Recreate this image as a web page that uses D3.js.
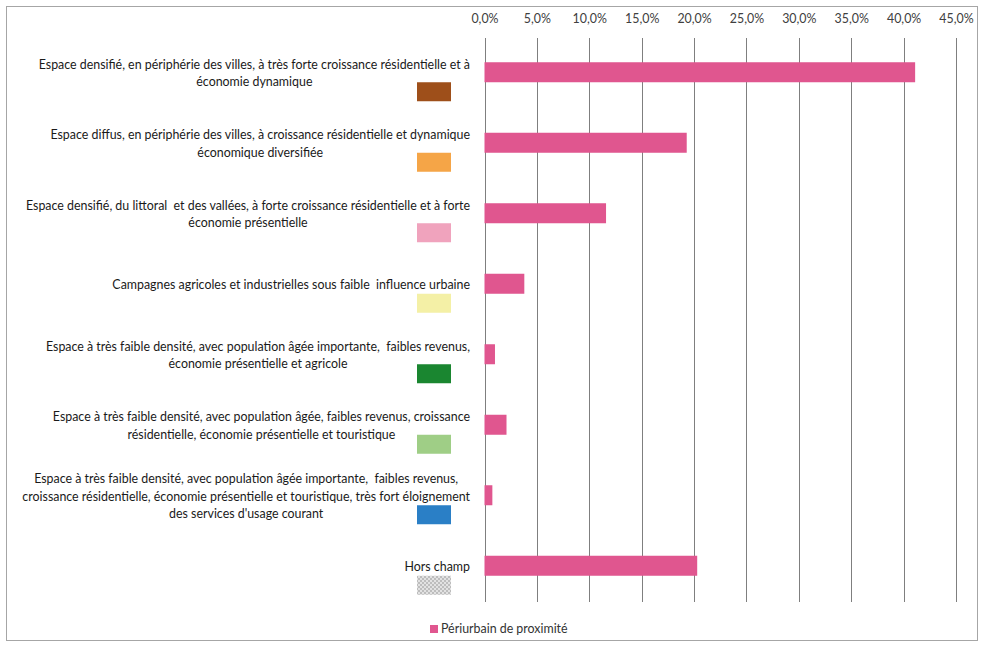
<!DOCTYPE html>
<html>
<head>
<meta charset="utf-8">
<script src="https://cdn.jsdelivr.net/npm/d3@7"></script>
<style>
  body { margin: 0; background: #fff; }
  svg { display: block; }
  text { font-family: Lato, "Open Sans", sans-serif; }
</style>
</head>
<body>
<svg id="chart" width="983" height="647"></svg>
<script>
const categories = [
  ["Espace densifié, en périphérie des villes, à très forte croissance résidentielle et à", "économie dynamique"],
  ["Espace diffus, en périphérie des villes, à croissance résidentielle et dynamique", "économique diversifiée"],
  ["Espace densifié, du littoral  et des vallées, à forte croissance résidentielle et à forte", "économie présentielle"],
  ["Campagnes agricoles et industrielles sous faible  influence urbaine"],
  ["Espace à très faible densité, avec population âgée importante,  faibles revenus,", "économie présentielle et agricole"],
  ["Espace à très faible densité, avec population âgée, faibles revenus, croissance", "résidentielle, économie présentielle et touristique"],
  ["Espace à très faible densité, avec population âgée importante,  faibles revenus,", "croissance résidentielle, économie présentielle et touristique, très fort éloignement", "des services d'usage courant"],
  ["Hors champ"]
];
const categoryColors = ["#9e4f1a", "#f5a547", "#f0a3bd", "#f4f0a6", "#1a8630", "#9fce86", "#2a7fc6", "pattern"];
const seriesName = "Périurbain de proximité";
const values = [41.1, 19.3, 11.6, 3.8, 1.0, 2.1, 0.75, 20.3];
const tickValues = [0, 5, 10, 15, 20, 25, 30, 35, 40, 45];

const svg = d3.select("#chart");
const FS = 12.4;

// outer border
svg.append("rect").attr("x", 6.5).attr("y", 6.5).attr("width", 971).attr("height", 634)
  .attr("fill", "#fff").attr("stroke", "#a6a6a6").attr("stroke-width", 1);

// checker pattern for "Hors champ"
const defs = svg.append("defs");
const pat = defs.append("pattern").attr("id", "chk").attr("width", 4).attr("height", 4)
  .attr("patternUnits", "userSpaceOnUse");
pat.append("rect").attr("width", 4).attr("height", 4).attr("fill", "#e2e2e2");
pat.append("rect").attr("width", 2).attr("height", 2).attr("fill", "#bdbdbd");
pat.append("rect").attr("x", 2).attr("y", 2).attr("width", 2).attr("height", 2).attr("fill", "#bdbdbd");

const plot = { left: 484.5, right: 956, top: 38, bottom: 602 };

const x = d3.scaleLinear().domain([0, 45]).range([plot.left, plot.right]);
const y = d3.scaleBand().domain(d3.range(categories.length)).range([plot.top, plot.bottom]);

const locale = d3.formatLocale({ decimal: ",", thousands: " ", grouping: [3], currency: ["", "€"] });
const fmt = locale.format(".1f");

// gridlines
svg.append("g").selectAll("line").data(tickValues).join("line")
  .attr("x1", d => Math.round(x(d)) + 0.5).attr("x2", d => Math.round(x(d)) + 0.5)
  .attr("y1", plot.top).attr("y2", plot.bottom)
  .attr("stroke", "#7f7f7f").attr("stroke-width", 1);

// top axis labels
const axis = d3.axisTop(x).tickValues(tickValues).tickFormat(d => fmt(d) + "%").tickSize(0);
const ag = svg.append("g").attr("transform", `translate(0,${plot.top - 12})`).call(axis);
ag.select(".domain").remove();
ag.selectAll("text").attr("font-size", FS).attr("fill", "#404040").attr("font-family", "Lato, sans-serif");

// bars
const barH = 20;
svg.append("g").selectAll("rect").data(values).join("rect")
  .attr("x", x(0))
  .attr("y", (d, i) => y(i) + y.bandwidth() / 2 - barH / 2 - 1)
  .attr("width", d => x(d) - x(0))
  .attr("height", barH)
  .attr("fill", "#e0568f");

// category labels
const lineH = 17.5;
const labelRight = 470;
const lg = svg.append("g");
categories.forEach((lines, i) => {
  const cy = y(i) + y.bandwidth() / 2;
  const g = lg.append("g");
  const texts = lines.map((t, k) => g.append("text")
    .attr("y", cy + (k - (lines.length - 1) / 2) * lineH)
    .attr("dy", "0.35em")
    .attr("text-anchor", "middle")
    .attr("font-size", FS)
    .attr("fill", "#1a1a1a")
    .attr("xml:space", "preserve")
    .text(t));
  const maxW = d3.max(texts, t => t.node().getComputedTextLength());
  texts.forEach(t => t.attr("x", labelRight - maxW / 2));
  const c = categoryColors[i];
  g.append("rect")
    .attr("x", 417).attr("y", cy + 9)
    .attr("width", 34).attr("height", 19)
    .attr("fill", c === "pattern" ? "url(#chk)" : c);
});

// legend
const leg = svg.append("g");
leg.append("rect").attr("x", 430).attr("y", 625).attr("width", 8).attr("height", 8).attr("fill", "#e0568f");
leg.append("text").attr("x", 441).attr("y", 629).attr("dy", "0.35em")
  .attr("font-size", FS).attr("fill", "#333").text(seriesName);
</script>
</body>
</html>
